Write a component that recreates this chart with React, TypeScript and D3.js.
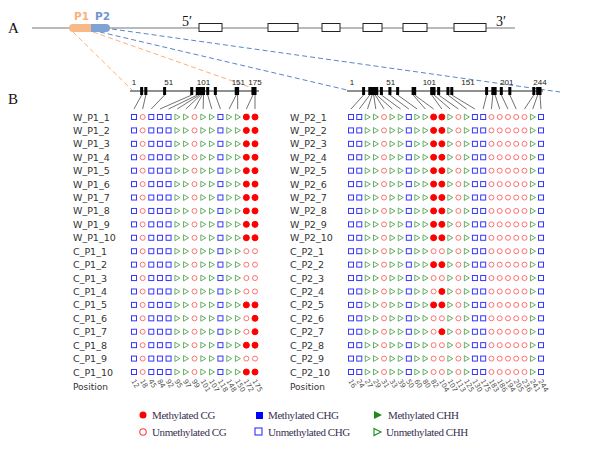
import React from "react";
import * as d3 from "d3";

const p1Positions = [12, 18, 45, 84, 92, 95, 97, 99, 101, 107, 118, 148, 150, 172, 175];
const p1Types = ["CHG", "CG", "CHG", "CHG", "CHG", "CHH", "CHH", "CG", "CHH", "CHH", "CHG", "CHH", "CHH", "CG", "CG"];
const p2Positions = [16, 24, 27, 29, 31, 33, 39, 50, 60, 80, 82, 104, 107, 113, 125, 130, 175, 183, 186, 194, 205, 236, 241, 244];
const p2Types = ["CHG", "CHG", "CHH", "CHH", "CG", "CHH", "CHH", "CHG", "CHH", "CHH", "CG", "CG", "CHH", "CG", "CHH", "CHG", "CHG", "CG", "CG", "CG", "CG", "CG", "CHH", "CHG"];
const p1Samples = ["W_P1_1","W_P1_2","W_P1_3","W_P1_4","W_P1_5","W_P1_6","W_P1_7","W_P1_8","W_P1_9","W_P1_10","C_P1_1","C_P1_2","C_P1_3","C_P1_4","C_P1_5","C_P1_6","C_P1_7","C_P1_8","C_P1_9","C_P1_10"];
const p2Samples = ["W_P2_1","W_P2_2","W_P2_3","W_P2_4","W_P2_5","W_P2_6","W_P2_7","W_P2_8","W_P2_9","W_P2_10","C_P2_1","C_P2_2","C_P2_3","C_P2_4","C_P2_5","C_P2_6","C_P2_7","C_P2_8","C_P2_9","C_P2_10"];
// methylated column indices per sample
const p1Methylated = [[13,14],[13,14],[13,14],[13,14],[13,14],[13,14],[13,14],[13,14],[13,14],[13,14],[],[],[],[],[13,14],[14],[14],[13,14],[],[13,14]];
const p2Methylated = [[10,11],[10,11],[10,11],[10,11],[10,11],[10,11],[10,11],[10,11],[10,11],[10,11],[],[10,11],[],[11],[10,11],[],[11],[],[],[]];
const p1Ticks = [1, 51, 101, 151, 175];
const p2Ticks = [1, 51, 101, 151, 201, 244];
const exons = [[199, 222], [268, 298], [322, 340], [363, 382], [403, 427], [454, 486]];

const COL: Record<string, string> = { CG: "#ff0000", CHG: "#1a1aff", CHH: "#3c9a3c" };
const UNCOL: Record<string, string> = { CG: "#ff7070", CHG: "#3535ff", CHH: "#55a555" };

function Symbol({ type, meth, x, y }: { type: string; meth: boolean; x: number; y: number }) {
  const c = meth ? COL[type] : UNCOL[type];
  if (type === "CG") return <circle cx={x} cy={y} r={meth ? 3 : 2.5} fill={meth ? c : "white"} stroke={c} strokeWidth={1} />;
  if (type === "CHG") return <rect x={x - 2.5} y={y - 2.5} width={5} height={5} fill={meth ? c : "white"} stroke={c} strokeWidth={1} />;
  return <path d={`M${x - 2.3},${y - 2.9}L${x + 2.7},${y}L${x - 2.3},${y + 2.9}Z`} fill={meth ? c : "white"} stroke={c} strokeWidth={0.9} />;
}

function Panel({ positions, types, samples, methyl, ticks, labelX, colX0, colX1, lineX0, lineX1, posScaleRange, maxPos }: any) {
  const col = d3.scalePoint<number>().domain(d3.range(positions.length)).range([colX0, colX1]);
  const row = d3.scalePoint<string>().domain(samples).range([117, 372]);
  const gx = d3.scaleLinear().domain([1, maxPos]).range(posScaleRange);
  const lineY = 91;
  return (
    <g>
      <line x1={lineX0} x2={lineX1} y1={lineY} y2={lineY} stroke="#222" strokeWidth={1.2} />
      {ticks.map((t: number) => (
        <text key={t} x={gx(t)} y={85} fontSize={8} textAnchor="middle" fill="#222" fontFamily="Liberation Sans, sans-serif">{t}</text>
      ))}
      {positions.map((p: number, i: number) => (
        <g key={i}>
          <rect x={gx(p) - 1.5} y={lineY - 4} width={3} height={8} fill="#000" />
          <line x1={gx(p)} y1={lineY + 4} x2={col(i)} y2={109} stroke="#333" strokeWidth={0.7} />
        </g>
      ))}
      {samples.map((s: string, r: number) => (
        <g key={s}>
          <text x={labelX} y={(row(s) as number) + 3.5} fontSize={9.5} fill="#333" fontFamily="DejaVu Sans, sans-serif">{s}</text>
          {types.map((t: string, i: number) => (
            <Symbol key={i} type={t} meth={methyl[r].includes(i)} x={col(i) as number} y={row(s) as number} />
          ))}
        </g>
      ))}
      <text x={labelX} y={390} fontSize={9} fill="#333" fontFamily="DejaVu Sans, sans-serif">Position</text>
      {positions.map((p: number, i: number) => (
        <text key={i} transform={`translate(${(col(i) as number) - 3},${381}) rotate(60)`} fontSize={7} fill="#555" fontFamily="DejaVu Sans, sans-serif">{p}</text>
      ))}
    </g>
  );
}

export default function App() {
  const gene = d3.scaleLinear().domain([0, 100]).range([32, 515]);
  return (
    <svg width={600} height={451} style={{ display: "block", position: "absolute", left: 0, top: 0, background: "white" }}>
      <text x={8} y={33} fontSize={15} fontFamily="Liberation Serif, serif" fill="#111">A</text>
      <text x={8} y={104} fontSize={15} fontFamily="Liberation Serif, serif" fill="#111">B</text>
      <line x1={gene(0)} x2={gene(100)} y1={28} y2={28} stroke="#777" strokeWidth={1.2} />
      {exons.map(([a, b], i) => (
        <rect key={i} x={a} y={23.5} width={b - a} height={8} fill="white" stroke="#222" strokeWidth={1} />
      ))}
      <text x={182} y={26} fontSize={14} fontFamily="Liberation Serif, serif" fill="#111">5′</text>
      <text x={496} y={26} fontSize={14} fontFamily="Liberation Serif, serif" fill="#111">3′</text>
      <line x1={73} y1={32} x2={132} y2={90} stroke="#f6b27e" strokeWidth={1} strokeDasharray="5,3" />
      <line x1={93} y1={32} x2={258} y2={90} stroke="#f6b27e" strokeWidth={1} strokeDasharray="5,3" />
      <line x1={100} y1={32} x2={347} y2={90} stroke="#5a86c8" strokeWidth={1} strokeDasharray="5,3" />
      <line x1={112} y1={29} x2={560} y2={92} stroke="#5a86c8" strokeWidth={1} strokeDasharray="5,3" />
      <rect x={69} y={24} width={26} height={8} rx={4} fill="#f8b888" />
      <rect x={91} y={24} width={19} height={8} rx={4} fill="#7fa3d4" />
      <rect x={91} y={24} width={6} height={8} fill="#7fa3d4" />
      <text x={74} y={20} fontSize={10.5} fontWeight="bold" fill="#f8b07c" fontFamily="DejaVu Sans, sans-serif">P1</text>
      <text x={95} y={20} fontSize={10.5} fontWeight="bold" fill="#6e95cf" fontFamily="DejaVu Sans, sans-serif">P2</text>
      <Panel positions={p1Positions} types={p1Types} samples={p1Samples} methyl={p1Methylated} ticks={p1Ticks}
        labelX={73} colX0={134} colX1={255} lineX0={130} lineX1={259} posScaleRange={[134, 255]} maxPos={175} />
      <Panel positions={p2Positions} types={p2Types} samples={p2Samples} methyl={p2Methylated} ticks={p2Ticks}
        labelX={290} colX0={351} colX1={541} lineX0={347} lineX1={543} posScaleRange={[352, 540]} maxPos={244} />
      <g fontFamily="Liberation Serif, serif" fontSize={11} fill="#3a3050" letterSpacing={-0.4}>
        <circle cx={143} cy={415} r={3.5} fill="#ff0000" />
        <text x={152} y={419}>Methylated CG</text>
        <circle cx={143} cy={432} r={3.2} fill="white" stroke="#ff4040" strokeWidth={1.1} />
        <text x={152} y={436}>Unmethylated CG</text>
        <rect x={256} y={412} width={7} height={7} fill="#0000ff" />
        <text x={268} y={419}>Methylated  CHG</text>
        <rect x={255} y={428} width={7} height={7} fill="white" stroke="#3030ff" strokeWidth={1.1} />
        <text x={268} y={436}>Unmethylated CHG</text>
        <path d="M374,411L382,415L374,419Z" fill="#1a8a1a" />
        <text x={388} y={419}>Methylated CHH</text>
        <path d="M374,428.5L381,432L374,435.5Z" fill="white" stroke="#1a8a1a" strokeWidth={1.1} />
        <text x={386} y={436}>Unmethylated  CHH</text>
      </g>
    </svg>
  );
}
